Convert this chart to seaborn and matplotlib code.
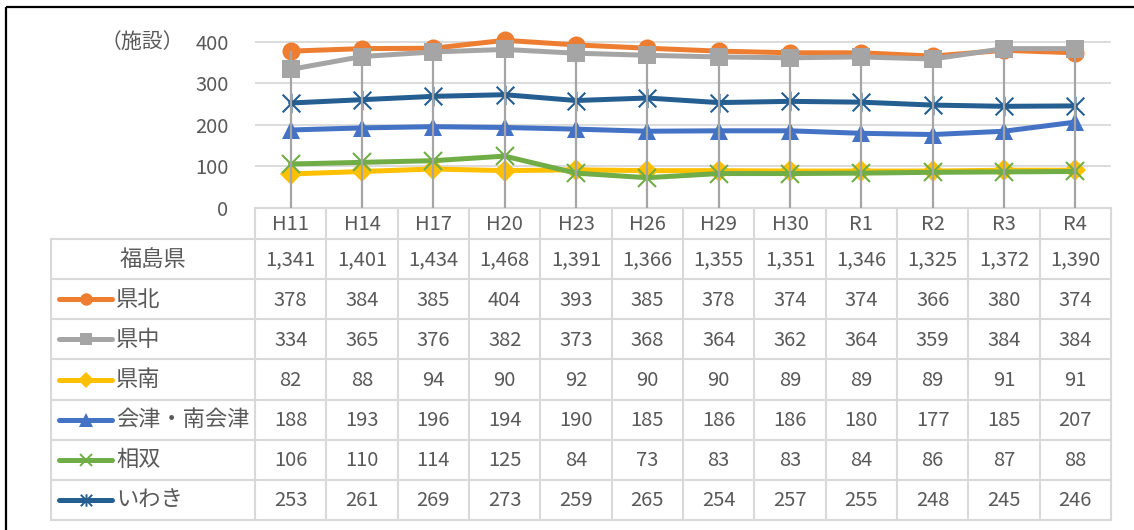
import numpy as np
import matplotlib.pyplot as plt
import seaborn as sns
from matplotlib.path import Path

# ── Data ──────────────────────────────────────────────────────────────────────
categories = ["H11", "H14", "H17", "H20", "H23", "H26", "H29", "H30", "R1", "R2", "R3", "R4"]
total_label = "福島県"
total = [1341, 1401, 1434, 1468, 1391, 1366, 1355, 1351, 1346, 1325, 1372, 1390]

area_names = ["県北", "県中", "県南", "会津・南会津", "相双", "いわき"]
kenpoku = [378, 384, 385, 404, 393, 385, 378, 374, 374, 366, 380, 374]
kenchu = [334, 365, 376, 382, 373, 368, 364, 362, 364, 359, 384, 384]
kennan = [82, 88, 94, 90, 92, 90, 90, 89, 89, 89, 91, 91]
aizu = [188, 193, 196, 194, 190, 185, 186, 186, 180, 177, 185, 207]
soso = [106, 110, 114, 125, 84, 73, 83, 83, 84, 86, 87, 88]
iwaki = [253, 261, 269, 273, 259, 265, 254, 257, 255, 248, 245, 246]
area_values = [kenpoku, kenchu, kennan, aizu, soso, iwaki]

y_ticks = [0, 100, 200, 300, 400]
unit_label = "（施設）"

# ── Style ─────────────────────────────────────────────────────────────────────
COLORS = ["#ED7D31", "#A5A5A5", "#FFC000", "#4472C4", "#70AD47", "#255E91"]
STAR = Path([(-1, -1), (1, 1), (-1, 1), (1, -1), (0, -1.1), (0, 1.1)],
            [Path.MOVETO, Path.LINETO, Path.MOVETO, Path.LINETO, Path.MOVETO, Path.LINETO])
MARKERS = ["o", "s", "D", "^", "x", STAR]
SIZES = [13, 13, 11, 13, 13, 14]
LEG_SIZES = [9, 9, 8, 10, 9, 9]
TXT = "#595959"
GRID = "#D9D9D9"
NUM_FS = 14.5
JP_FS = 16

sns.set_theme(style="white")
plt.rcParams["font.family"] = ["Noto Sans CJK JP", "DejaVu Sans"]

W, H = 1134, 530
fig = plt.figure(figsize=(W / 100, H / 100), dpi=100)

# overlay in pixel coordinates for frame + data table
ov = fig.add_axes([0, 0, 1, 1])
ov.set_xlim(0, W)
ov.set_ylim(H, 0)
ov.axis("off")

# plot area
ax = fig.add_axes([255 / W, (H - 208) / H, 856 / W, 188 / H])
ax.patch.set_visible(False)
pos = np.arange(len(categories))

for name, vals, color, marker, ms in zip(area_names, area_values, COLORS, MARKERS, SIZES):
    line_art = marker in ("x",) or isinstance(marker, Path)
    sns.lineplot(x=pos, y=vals, ax=ax, color=color, linewidth=3.6, marker=marker,
                 markersize=ms, markerfacecolor=color, markeredgecolor=color,
                 markeredgewidth=1.5 if line_art else 0, estimator=None, legend=False)

# drop lines
ax.vlines(pos, 0, np.max(np.array(area_values), axis=0), color="#A5A5A5", lw=1.6, zorder=5)

ax.set_xlim(-0.5, len(categories) - 0.5)
ax.set_ylim(0, 453)
ax.set_xticks([])
ax.set_yticks(y_ticks)
ax.set_yticklabels([str(t) for t in y_ticks])
ax.yaxis.grid(True, color=GRID, lw=1.3)
ax.set_axisbelow(True)
ax.tick_params(axis="y", length=0, pad=19, labelsize=NUM_FS, labelcolor=TXT)
for s in ax.spines.values():
    s.set_visible(False)
ax.set_xlabel("")
ax.set_ylabel("")

ov.text(184, 42, unit_label, ha="right", va="center", fontsize=15, color=TXT)

# outer frame (left / top edges)
ov.plot([5.5, 5.5], [7, H], color="black", lw=1.6, solid_capstyle="butt")
ov.plot([5.5, W], [7, 7], color="black", lw=1.6, solid_capstyle="butt")

# ── Data table ────────────────────────────────────────────────────────────────
x0, x1, xr = 51, 255, 1111
col_w = (xr - x1) / len(categories)
y_head, y_top, y_bot = 208, 239, 520
n_rows = 1 + len(area_names)
row_h = (y_bot - y_top) / n_rows
tl = dict(color=GRID, lw=1.5, solid_capstyle="projecting")

ov.plot([x1, xr], [y_head, y_head], **tl)
for i in range(n_rows + 1):
    y = y_top + i * row_h
    ov.plot([x0, xr], [y, y], **tl)
ov.plot([x0, x0], [y_top, y_bot], **tl)
for k in range(len(categories) + 1):
    x = x1 + k * col_w
    ov.plot([x, x], [y_head, y_bot], **tl)

for k, cat in enumerate(categories):
    ov.text(x1 + (k + 0.5) * col_w, (y_head + y_top) / 2 + 1, cat,
            ha="center", va="center", fontsize=NUM_FS, color=TXT)

yc = y_top + 0.5 * row_h
ov.text((x0 + x1) / 2, yc, total_label, ha="center", va="center", fontsize=JP_FS, color=TXT)
for k, v in enumerate(total):
    ov.text(x1 + (k + 0.5) * col_w, yc + 1, f"{v:,}", ha="center", va="center",
            fontsize=NUM_FS, color=TXT)

for i, (name, vals, color, marker, ms) in enumerate(
        zip(area_names, area_values, COLORS, MARKERS, LEG_SIZES)):
    yc = y_top + (i + 1.5) * row_h
    line_art = marker in ("x",) or isinstance(marker, Path)
    ov.plot([59, 112], [yc, yc], color=color, lw=3.6, solid_capstyle="round")
    ov.plot([85.5], [yc], marker=marker, ms=ms, color=color, mfc=color, mec=color,
            mew=1.4 if line_art else 0)
    ov.text(116, yc, name, ha="left", va="center", fontsize=JP_FS, color=TXT)
    for k, v in enumerate(vals):
        ov.text(x1 + (k + 0.5) * col_w, yc + 1, f"{v:,}", ha="center", va="center",
                fontsize=NUM_FS, color=TXT)

fig.savefig("out.png", dpi=100)
